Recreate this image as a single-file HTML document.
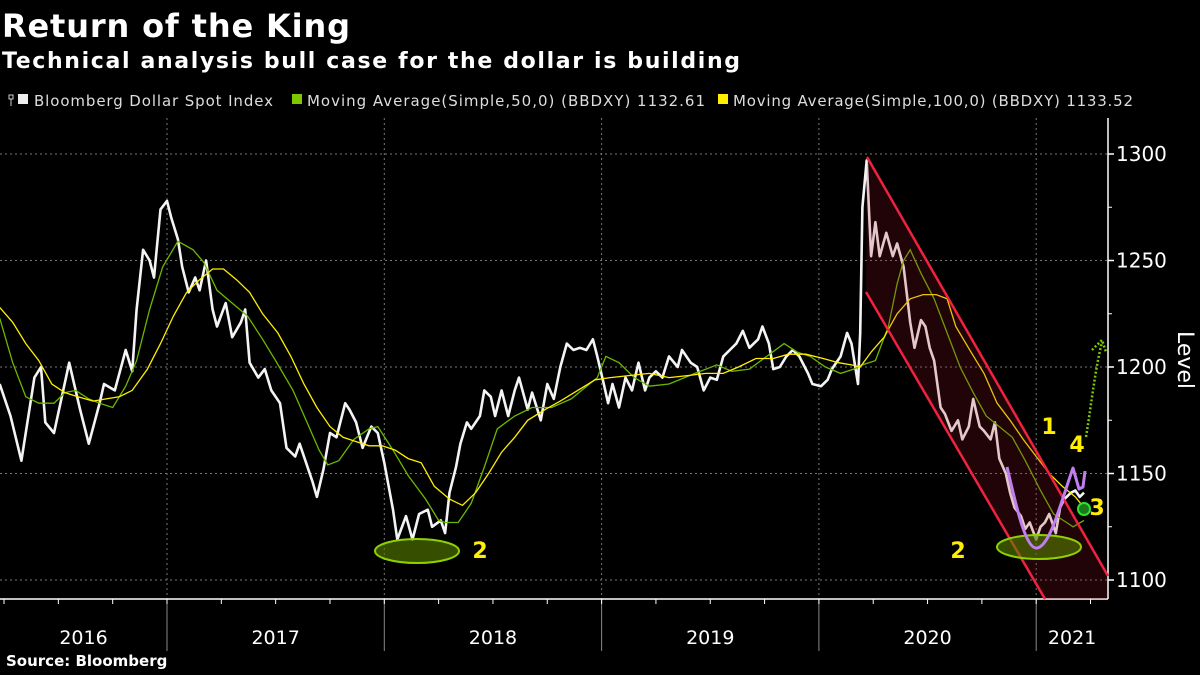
<!DOCTYPE html>
<html><head><meta charset="utf-8"><style>
html,body{margin:0;padding:0;background:#000;width:1200px;height:675px;overflow:hidden}
svg{display:block;font-family:"DejaVu Sans","Liberation Sans",sans-serif}
</style></head><body>
<svg id="chart" width="1200" height="675" viewBox="0 0 1200 675">
<rect width="1200" height="675" fill="#000"/>
<text x="2" y="37" fill="#fff" font-weight="bold" font-size="32" textLength="348">Return of the King</text>
<text x="2" y="68" fill="#fff" font-weight="bold" font-size="22" textLength="738">Technical analysis bull case for the dollar is building</text>
<g id="legend" font-size="15" fill="#ddd">
 <g><rect x="9" y="95" width="4" height="4" fill="none" stroke="#ccc"/><line x1="11" y1="99" x2="11" y2="106" stroke="#ccc"/><rect x="18" y="94" width="10" height="10" fill="#eee"/><text x="34" y="106" textLength="239">Bloomberg Dollar Spot Index</text></g>
 <g><rect x="292" y="94" width="10" height="10" fill="#7ec800"/><text x="307" y="106" textLength="398">Moving Average(Simple,50,0) (BBDXY) 1132.61</text></g>
 <g><rect x="718" y="94" width="10" height="10" fill="#ffee00"/><text x="733" y="106" textLength="400">Moving Average(Simple,100,0) (BBDXY) 1133.52</text></g>
</g>
<g id="grid"></g><g id="plot"></g><g id="axes"></g><g id="annot"></g>
</svg>
<script>
const priceT=[2016.23,2016.28,2016.33,2016.39,2016.42,2016.44,2016.48,2016.55,2016.60,2016.64,2016.69,2016.71,2016.76,2016.81,2016.84,2016.86,2016.89,2016.92,2016.94,2016.97,2017.00,2017.02,2017.05,2017.07,2017.10,2017.13,2017.15,2017.18,2017.21,2017.23,2017.27,2017.30,2017.34,2017.36,2017.38,2017.42,2017.45,2017.48,2017.52,2017.55,2017.59,2017.61,2017.64,2017.67,2017.69,2017.72,2017.75,2017.78,2017.82,2017.84,2017.87,2017.90,2017.94,2017.97,2018.00,2018.04,2018.06,2018.10,2018.13,2018.16,2018.20,2018.22,2018.26,2018.28,2018.30,2018.33,2018.35,2018.38,2018.40,2018.44,2018.46,2018.49,2018.51,2018.54,2018.57,2018.60,2018.62,2018.66,2018.68,2018.72,2018.75,2018.78,2018.81,2018.84,2018.87,2018.90,2018.93,2018.96,2018.98,2019.01,2019.03,2019.05,2019.08,2019.11,2019.14,2019.17,2019.20,2019.22,2019.25,2019.28,2019.31,2019.35,2019.37,2019.41,2019.44,2019.47,2019.50,2019.53,2019.56,2019.59,2019.62,2019.65,2019.68,2019.72,2019.74,2019.77,2019.79,2019.82,2019.85,2019.88,2019.91,2019.95,2019.97,2020.01,2020.04,2020.06,2020.10,2020.13,2020.15,2020.18,2020.19,2020.20,2020.22,2020.24,2020.26,2020.28,2020.31,2020.34,2020.36,2020.39,2020.42,2020.44,2020.47,2020.49,2020.51,2020.53,2020.56,2020.58,2020.61,2020.64,2020.66,2020.69,2020.71,2020.74,2020.76,2020.79,2020.81,2020.83,2020.86,2020.88,2020.90,2020.93,2020.95,2020.97,2021.00,2021.02,2021.04,2021.06,2021.09,2021.11,2021.13,2021.16,2021.18,2021.20,2021.22];
const priceV=[1192,1177,1156,1195,1200,1174,1169,1202,1180,1164,1183,1192,1189,1208,1198,1227,1255,1250,1242,1274,1278,1270,1260,1247,1235,1242,1236,1250,1227,1219,1230,1214,1221,1227,1202,1195,1199,1189,1183,1162,1158,1164,1155,1146,1139,1152,1169,1167,1183,1180,1174,1162,1172,1169,1155,1133,1119,1130,1119,1131,1133,1125,1128,1122,1141,1153,1164,1174,1171,1177,1189,1186,1177,1189,1177,1189,1195,1180,1188,1175,1192,1185,1200,1211,1208,1209,1208,1213,1205,1192,1183,1192,1181,1195,1189,1202,1189,1195,1198,1195,1205,1200,1208,1202,1200,1189,1195,1194,1205,1208,1211,1217,1209,1213,1219,1211,1199,1200,1205,1208,1205,1197,1192,1191,1194,1199,1205,1216,1211,1192,1216,1275,1297,1252,1268,1252,1263,1252,1258,1247,1221,1209,1222,1219,1209,1203,1181,1178,1170,1175,1166,1172,1185,1172,1170,1166,1174,1157,1150,1141,1134,1130,1124,1127,1119,1125,1127,1131,1122,1134,1138,1141,1142,1139,1141];
const ma50T=[2016.23,2016.29,2016.35,2016.41,2016.48,2016.53,2016.58,2016.64,2016.69,2016.75,2016.81,2016.86,2016.92,2016.98,2017.05,2017.12,2017.17,2017.23,2017.30,2017.37,2017.44,2017.50,2017.58,2017.64,2017.70,2017.74,2017.79,2017.86,2017.93,2017.97,2018.04,2018.11,2018.19,2018.25,2018.28,2018.34,2018.40,2018.46,2018.52,2018.60,2018.68,2018.77,2018.86,2018.98,2019.02,2019.08,2019.15,2019.22,2019.31,2019.43,2019.53,2019.60,2019.68,2019.76,2019.84,2019.90,2019.96,2020.03,2020.10,2020.16,2020.20,2020.26,2020.32,2020.36,2020.39,2020.42,2020.47,2020.53,2020.59,2020.65,2020.71,2020.77,2020.83,2020.89,2020.95,2021.02,2021.08,2021.14,2021.17,2021.22];
const ma50V=[1223,1202,1186,1183,1183,1188,1189,1185,1183,1181,1191,1203,1227,1247,1259,1255,1249,1236,1230,1224,1213,1203,1189,1175,1161,1154,1156,1166,1171,1172,1161,1149,1138,1128,1127,1127,1136,1153,1171,1177,1181,1181,1185,1195,1205,1202,1195,1191,1192,1197,1201,1198,1199,1205,1211,1207,1205,1200,1197,1199,1201,1203,1219,1239,1250,1255,1244,1232,1216,1200,1188,1177,1172,1167,1156,1142,1131,1127,1125,1128,1131];
const ma100T=[2016.23,2016.29,2016.35,2016.41,2016.47,2016.53,2016.59,2016.66,2016.72,2016.78,2016.84,2016.91,2016.97,2017.03,2017.09,2017.15,2017.21,2017.26,2017.32,2017.38,2017.44,2017.51,2017.57,2017.63,2017.69,2017.75,2017.81,2017.87,2017.93,2017.99,2018.05,2018.11,2018.17,2018.23,2018.30,2018.36,2018.42,2018.48,2018.54,2018.60,2018.66,2018.74,2018.81,2018.89,2018.97,2019.04,2019.13,2019.22,2019.31,2019.40,2019.48,2019.56,2019.63,2019.71,2019.79,2019.86,2019.94,2020.02,2020.09,2020.15,2020.19,2020.24,2020.30,2020.36,2020.42,2020.48,2020.54,2020.59,2020.63,2020.70,2020.76,2020.82,2020.88,2020.94,2021.00,2021.06,2021.12,2021.18,2021.22];
const ma100V=[1228,1221,1211,1203,1192,1188,1186,1184,1185,1186,1189,1199,1211,1224,1235,1241,1246,1246,1241,1235,1225,1216,1205,1192,1181,1172,1167,1165,1163,1163,1161,1157,1155,1144,1138,1135,1141,1150,1160,1167,1175,1180,1184,1189,1194,1195,1196,1197,1195,1196,1197,1197,1200,1204,1204,1206,1206,1204,1202,1201,1200,1207,1214,1225,1232,1234,1234,1232,1219,1207,1197,1183,1175,1166,1158,1150,1144,1139,1134];
const yTicks=[1100,1150,1200,1250,1300];
const yearLabels=["2016","2017","2018","2019","2020","2021"];
const yearStarts=[2016,2017,2018,2019,2020,2021];

const NS="http://www.w3.org/2000/svg";
const X=t=>167+(t-2017)*217.3;
const Y=v=>154+(1300-v)*2.13;
const el=(tag,attrs,parent)=>{const e=document.createElementNS(NS,tag);for(const k in attrs)e.setAttribute(k,attrs[k]);parent.appendChild(e);return e;};
const grid=document.getElementById('grid'),plot=document.getElementById('plot'),axes=document.getElementById('axes'),annot=document.getElementById('annot');

yTicks.forEach(v=>{
 const l=el('line',{x1:0,x2:1108,y1:Y(v),y2:Y(v),stroke:'#777','stroke-width':1,'stroke-dasharray':'2,3'},grid);
 
 
 const t=el('text',{x:1116,y:Y(v)+7,fill:'#fff','font-size':20},axes);
 t.textContent=v;
 
 
 el('line',{x1:1108,x2:1114,y1:Y(v),y2:Y(v),stroke:'#fff','stroke-width':1.5},axes);
});
for(let v=1100;v<=1300;v+=25){el('line',{x1:1108,x2:1112,y1:Y(v),y2:Y(v),stroke:'#fff'},axes);}
yearStarts.slice(1).forEach(y=>{
 const l=el('line',{x1:X(y),x2:X(y),y1:118,y2:599,stroke:'#777','stroke-dasharray':'2,3'},grid);
 
 
 el('line',{x1:X(y),x2:X(y),y1:599,y2:651,stroke:'#888'},axes);
});
for(let q=2016;q<=2021.3;q+=0.25){const x=X(q);if(x>=0&&x<=1108)el('line',{x1:x,x2:x,y1:599,y2:604,stroke:'#fff'},axes);}
const xa=el('line',{x1:0,x2:1108,y1:599,y2:599,stroke:'#fff','stroke-width':1.5},axes);


const ya=el('line',{x1:1108,x2:1108,y1:118,y2:599,stroke:'#fff','stroke-width':1.5},axes);


yearLabels.forEach((lab,i)=>{
 const a=Math.max(0,X(yearStarts[i])),b=Math.min(1108,X(yearStarts[i]+1));
 const t=el('text',{x:(a+b)/2,y:644,fill:'#fff','font-size':19,'text-anchor':'middle'},axes);
 t.textContent=lab;
 
 
});
const yt=el('text',{x:1178,y:360,fill:'#fff','font-size':22,'text-anchor':'middle',transform:'rotate(90 1178 360)'},axes);
yt.textContent='Level';



const pathOf=(T,V)=>T.map((t,i)=>(i?'L':'M')+X(t).toFixed(1)+','+Y(V[i]).toFixed(1)).join('');
const pl=el('path',{d:pathOf(priceT,priceV),fill:'none',stroke:'#f4f4f4','stroke-width':2.6,'stroke-linejoin':'round'},plot);


const m1=el('path',{d:pathOf(ma50T,ma50V),fill:'none',stroke:'#6cb800','stroke-width':1.3},plot);


const m2=el('path',{d:pathOf(ma100T,ma100V),fill:'none',stroke:'#ffee00','stroke-width':1.3},plot);



// channel
const ch=el('polygon',{points:'867,157 1107,575 1107,599 1044,599 866,292',fill:'rgba(160,20,40,0.2)'},annot);


el('line',{x1:867,y1:157,x2:1108,y2:576,stroke:'#f0223f','stroke-width':2.5},annot);
el('line',{x1:866,y1:292,x2:1045,y2:599,stroke:'#f0223f','stroke-width':2.5},annot);
// ellipses
[[417,551],[1039,547]].forEach((c,i)=>{
 const e=el('ellipse',{cx:c[0],cy:c[1],rx:42,ry:12,fill:'rgba(90,130,0,0.6)',stroke:'#8fd000','stroke-width':2},annot);
 
 
});
const cup=el('path',{d:'M1007,467 C1015,500 1025,550 1037,548 C1050,546 1060,505 1073,468 L1079,489 L1083,487 L1085,471',fill:'none',stroke:'#c07ef0','stroke-width':3,'stroke-linejoin':'round'},annot);


const arr=el('path',{d:'M1086,437 C1092,400 1095,370 1102,342',fill:'none',stroke:'#7ec800','stroke-width':2.5,'stroke-dasharray':'2,2'},annot);


el('path',{d:'M1092,350 L1102,340 L1106,352',fill:'none',stroke:'#7ec800','stroke-width':2.5,'stroke-dasharray':'2,2'},annot);
const gc=el('circle',{cx:1084,cy:509,r:6,fill:'#1a7a1a',stroke:'#2fe02f','stroke-width':2},annot);


[['2',480,558],['2',958,558],['1',1049,434],['4',1077,452],['3',1097,515]].forEach((d,i)=>{
 const t=el('text',{x:d[1],y:d[2],fill:'#ffee00','font-size':22,'font-weight':'bold','text-anchor':'middle'},annot);
 t.textContent=d[0];
 
 
});
</script>
<div style="position:absolute;left:6px;top:652px;color:#fff;font:bold 15px 'DejaVu Sans','Liberation Sans',sans-serif">Source: Bloomberg</div>
</body></html>
